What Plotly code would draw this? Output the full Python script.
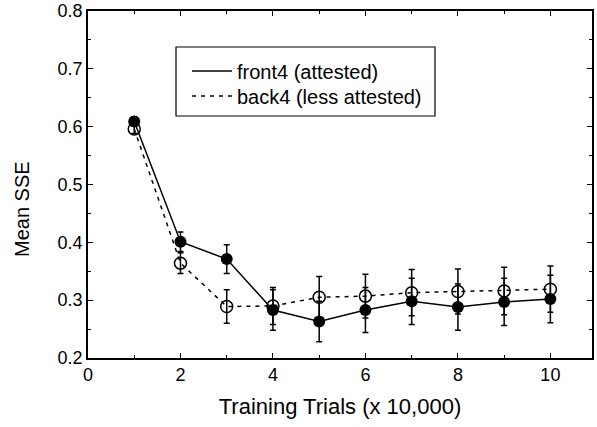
import plotly.graph_objects as go

trials = [1, 2, 3, 4, 5, 6, 7, 8, 9, 10]
front4 = [0.609, 0.401, 0.371, 0.283, 0.263, 0.283, 0.298, 0.288, 0.297, 0.302]
front4_err = [0.008, 0.017, 0.025, 0.035, 0.035, 0.039, 0.040, 0.040, 0.041, 0.041]
back4 = [0.596, 0.364, 0.289, 0.290, 0.305, 0.307, 0.313, 0.315, 0.316, 0.319]
back4_err = [0.008, 0.018, 0.029, 0.032, 0.036, 0.038, 0.040, 0.039, 0.041, 0.040]
legend_names = ["front4 (attested)", "back4 (less attested)"]

FONT = "Liberation Sans, Arial, sans-serif"
W, H = 597, 427
L, R, T, B = 88, 5, 11, 69
PW, PH = W - L - R, H - T - B


def px_x(p):
    return (p - L) / PW


def px_y(p):
    return (H - B - p) / PH


fig = go.Figure()
fig.add_trace(go.Scatter(
    x=trials, y=front4, mode="lines+markers", showlegend=False,
    line=dict(color="black", width=1.5),
    marker=dict(symbol="circle", size=12, color="black"),
    error_y=dict(type="data", array=front4_err, color="black", thickness=1.5, width=3),
))
fig.add_trace(go.Scatter(
    x=trials, y=back4, mode="lines+markers", showlegend=False,
    line=dict(color="black", width=1.5, dash="4px,5px"),
    marker=dict(symbol="circle-open", size=12, color="black", line=dict(width=1.5)),
    error_y=dict(type="data", array=back4_err, color="black", thickness=1.5, width=3),
))
fig.add_trace(go.Scatter(x=[None], y=[None], mode="lines", name=legend_names[0],
                         legend="legend", line=dict(color="black", width=1.5)))
fig.add_trace(go.Scatter(x=[None], y=[None], mode="lines", name=legend_names[1],
                         legend="legend2", line=dict(color="black", width=1.5, dash="4px,5px")))

axis_common = dict(
    showline=True, linecolor="black", linewidth=1.5, mirror="ticks",
    ticks="inside", ticklen=5, tickwidth=1, tickcolor="black",
    showgrid=False, zeroline=False, automargin=False,
    tickfont=dict(family=FONT, size=18, color="black"),
)
fig.update_xaxes(range=[0, 10.9], dtick=2, tick0=0,
                 minor=dict(dtick=1, ticks="inside", ticklen=3, tickcolor="black"),
                 title=dict(text="Training Trials (x 10,000)",
                            font=dict(family=FONT, size=22, color="black"), standoff=14),
                 **axis_common)
fig.update_yaxes(range=[0.2, 0.8], dtick=0.1, tick0=0.2, tickformat=".1f",
                 minor=dict(dtick=0.05, ticks="inside", ticklen=3, tickcolor="black"),
                 **axis_common)

fig.add_annotation(text="Mean SSE", textangle=-90, showarrow=False,
                   xref="paper", yref="paper", x=px_x(22), y=px_y(209),
                   xanchor="center", yanchor="middle",
                   font=dict(family=FONT, size=20, color="black"))

fig.add_shape(type="rect", xref="paper", yref="paper",
              x0=px_x(176), x1=px_x(435), y0=px_y(116), y1=px_y(47),
              line=dict(color="black", width=1.2), fillcolor="rgba(0,0,0,0)")

leg_common = dict(xanchor="left", yanchor="middle", bgcolor="rgba(0,0,0,0)", borderwidth=0,
                  font=dict(family=FONT, size=20, color="black"), itemwidth=40)
fig.update_layout(
    template="none",
    width=W, height=H,
    margin=dict(l=L, r=R, t=T, b=B),
    paper_bgcolor="white", plot_bgcolor="white",
    font=dict(family=FONT, color="black"),
    showlegend=True,
    legend=dict(x=px_x(187), y=px_y(71), **leg_common),
    legend2=dict(x=px_x(187), y=px_y(96), **leg_common),
)

fig.write_html("out.html", config={"displayModeBar": False},
               post_script="document.body.style.margin='0';document.body.style.overflow='hidden';")
